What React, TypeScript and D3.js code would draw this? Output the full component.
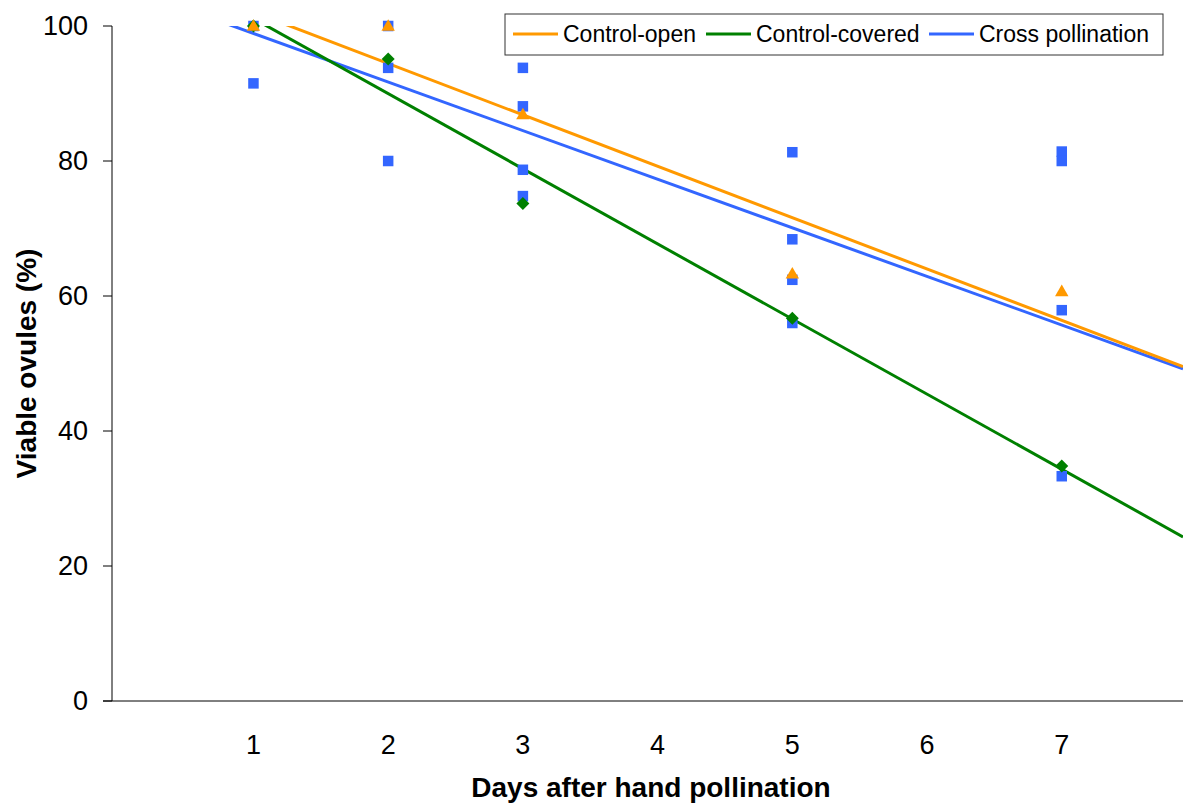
import React from "react";
import * as d3 from "d3";

// ---- Data ----
const xTicks = [1, 2, 3, 4, 5, 6, 7];
const yTicks = [0, 20, 40, 60, 80, 100];

const seriesNames = ["Control-open", "Control-covered", "Cross pollination"];
const seriesColors = ["#FF9900", "#008000", "#3366FF"];

const openDays = [1, 2, 3, 5, 7];
const openValues = [100, 100, 86.9, 63.3, 60.7];

const coveredDays = [1, 2, 3, 5, 7];
const coveredValues = [100, 95.1, 73.7, 56.7, 34.8];

const crossDays = [1, 1, 2, 2, 2, 3, 3, 3, 3, 5, 5, 5, 5, 7, 7, 7, 7];
const crossValues = [100, 91.5, 100, 93.8, 80.0, 93.8, 88.1, 78.7, 74.8, 81.3, 68.4, 62.4, 56.0, 81.4, 80.0, 57.9, 33.3];

// linear trend lines (slope, intercept)
const trendSlopes = [-7.61, -11.13, -7.2];
const trendIntercepts = [109.66, 112.24, 106.1];

const W = 1183;
const H = 805;
const FONT = "'Liberation Sans', Arial, Helvetica, sans-serif";

export default function App() {
  const left = 112;
  const right = 1183;
  const top = 26;
  const bottom = 701;

  const x = d3.scaleLinear().domain([-0.05, 7.9]).range([left, right]);
  const y = d3.scaleLinear().domain([0, 100]).range([bottom, top]);

  const line = d3
    .line<[number, number]>()
    .x((d) => x(d[0]))
    .y((d) => y(d[1]));

  const trendData = trendSlopes.map((s, i) => {
    const x0 = x.domain()[0];
    const x1 = x.domain()[1];
    return [
      [x0, trendIntercepts[i] + s * x0],
      [x1, trendIntercepts[i] + s * x1],
    ] as [number, number][];
  });

  const tri = d3.symbol().type(d3.symbolTriangle).size(78)() as string;
  const dr = 6.5;
  const dia = `M0,${-dr}L${dr},0L0,${dr}L${-dr},0Z`;
  const sq = 10.5;

  const legendLineX = [513, 706, 929];
  const legendY = 34;

  return (
    <svg
      width={W}
      height={H}
      style={{ position: "absolute", left: 0, top: 0, background: "#fff" }}
      fontFamily={FONT}
    >
      <defs>
        <clipPath id="plotClip">
          <rect x={left} y={top} width={right - left} height={bottom - top} />
        </clipPath>
      </defs>

      {/* axes */}
      <line x1={left} x2={left} y1={top} y2={bottom} stroke="#000" strokeWidth={1} />
      <line x1={left - 9} x2={right} y1={bottom} y2={bottom} stroke="#000" strokeWidth={1} />
      {yTicks.map((t) => (
        <g key={t}>
          <line x1={left - 9} x2={left} y1={y(t)} y2={y(t)} stroke="#000" strokeWidth={1} />
          <text
            x={88}
            y={y(t)}
            textAnchor="end"
            dominantBaseline="central"
            fontSize={27}
            fill="#000"
          >
            {t}
          </text>
        </g>
      ))}
      {xTicks.map((t) => (
        <text
          key={t}
          x={x(t)}
          y={745}
          textAnchor="middle"
          dominantBaseline="central"
          fontSize={27}
          fill="#000"
        >
          {t}
        </text>
      ))}

      {/* axis titles */}
      <text x={651} y={797} textAnchor="middle" fontSize={28} fontWeight="bold" fill="#000">
        Days after hand pollination
      </text>
      <text
        transform={`translate(36, ${(top + bottom) / 2}) rotate(-90)`}
        textAnchor="middle"
        fontSize={28}
        fontWeight="bold"
        fill="#000"
      >
        Viable ovules (%)
      </text>

      {/* trend lines */}
      <g clipPath="url(#plotClip)">
        {[2, 1, 0].map((i) => (
          <path
            key={i}
            d={line(trendData[i]) as string}
            fill="none"
            stroke={seriesColors[i]}
            strokeWidth={3}
          />
        ))}
      </g>

      {/* markers */}
      {crossDays.map((d, i) => (
        <rect
          key={"c" + i}
          x={x(d) - sq / 2}
          y={y(crossValues[i]) - sq / 2}
          width={sq}
          height={sq}
          fill={seriesColors[2]}
        />
      ))}
      {coveredDays.map((d, i) => (
        <path
          key={"v" + i}
          d={dia}
          transform={`translate(${x(d)}, ${y(coveredValues[i])})`}
          fill={seriesColors[1]}
        />
      ))}
      {openDays.map((d, i) => (
        <path
          key={"o" + i}
          d={tri}
          transform={`translate(${x(d)}, ${y(openValues[i]) + 1})`}
          fill={seriesColors[0]}
        />
      ))}

      {/* legend */}
      <rect x={505} y={14} width={658} height={41} fill="#fff" stroke="#333" strokeWidth={1} />
      {seriesNames.map((n, i) => (
        <g key={n}>
          <line
            x1={legendLineX[i]}
            x2={legendLineX[i] + 45}
            y1={legendY}
            y2={legendY}
            stroke={seriesColors[i]}
            strokeWidth={3}
          />
          <text
            x={legendLineX[i] + 50}
            y={legendY}
            dominantBaseline="central"
            fontSize={23}
            fill="#000"
          >
            {n}
          </text>
        </g>
      ))}
    </svg>
  );
}
